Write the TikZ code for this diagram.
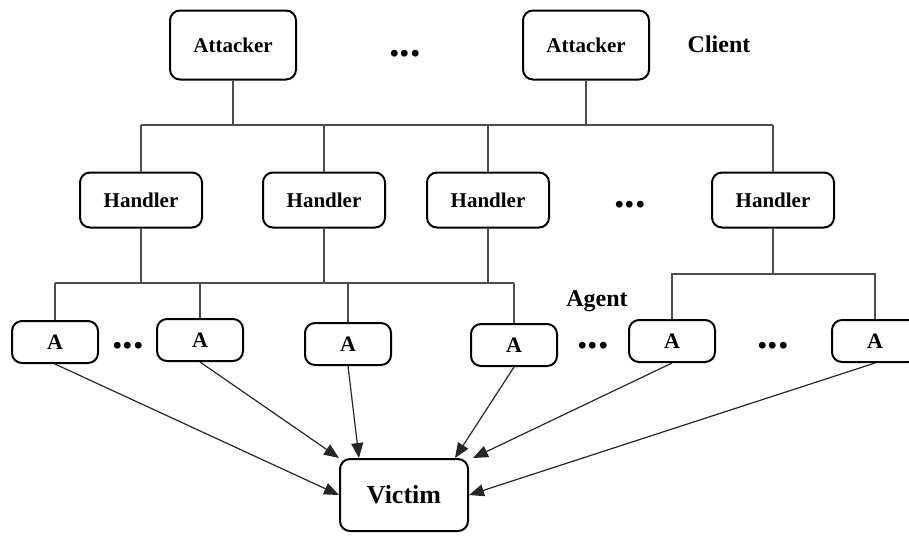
\documentclass[tikz,border=0pt]{standalone}
\usepackage{fontspec}
\setmainfont{Liberation Serif}
\usetikzlibrary{arrows.meta}

\begin{document}
\begin{tikzpicture}[x=0.5pt,y=-0.5pt,
        box/.style={draw, line width=1pt, rounded corners=5pt, font=\bfseries\fontsize{10.5}{12}\selectfont},
        tbox/.style={box, minimum width=63pt, minimum height=34.5pt},
        hbox/.style={box, minimum width=61pt, minimum height=27.5pt},
        abox/.style={box, minimum width=43pt, minimum height=21pt, font=\bfseries\fontsize{11}{13}\selectfont},
        vbox/.style={box, minimum width=64pt, minimum height=36pt, font=\bfseries\fontsize{13}{15}\selectfont},
        wire/.style={draw=black!70, line width=0.6pt},
        hit/.style={draw=black!85, line width=0.6pt, -{Triangle[length=7.5pt,width=6pt]}},
        more/.style={anchor=base, font=\bfseries\fontsize{21}{21}\selectfont},
        lbl/.style={font=\bfseries\fontsize{12}{14}\selectfont}]
        \useasboundingbox (0,0) rectangle (909,538);

        \node[tbox] (T1) at (233,45) {Attacker};
        \node[tbox] (T2) at (586,45) {Attacker};
        \node[more] (D0) at (405,56) {...};
        \node[lbl] (client) at (719,44) {Client};

        \node[hbox] (H1) at (141,200) {Handler};
        \node[hbox] (H2) at (324,200) {Handler};
        \node[hbox] (H3) at (488,200) {Handler};
        \node[hbox] (H4) at (773,200) {Handler};
        \node[more] (D1) at (630,207) {...};

        \node[abox] (A1) at (55,342) {A};
        \node[abox] (A2) at (200,340) {A};
        \node[abox] (A3) at (348,344) {A};
        \node[abox] (A4) at (514,345) {A};
        \node[abox] (A5) at (672,341) {A};
        \node[abox] (A6) at (875,341) {A};
        \node[more] (D2) at (128,348) {...};
        \node[more] (D3) at (593,348) {...};
        \node[more] (D4) at (773,348) {...};
        \node[lbl] (agent) at (597,301) {Agent};

        \node[vbox] (V) at (404,495) {Victim};

        \coordinate (bus1) at (0,125);
        \coordinate (bus2) at (0,283);
        \coordinate (bus3) at (0,274);

        \draw[wire] (T1.south) -- (T1.south |- bus1) (T2.south) -- (T2.south |- bus1);
        \draw[wire] (H1.north |- bus1) -- (H4.north |- bus1);
        \draw[wire] (H1.north) -- (H1.north |- bus1) (H2.north) -- (H2.north |- bus1);
        \draw[wire] (H3.north) -- (H3.north |- bus1) (H4.north) -- (H4.north |- bus1);

        \draw[wire] (H1.south) -- (H1.south |- bus2) (H2.south) -- (H2.south |- bus2);
        \draw[wire] (H3.south) -- (H3.south |- bus2);
        \draw[wire] (A1.north |- bus2) -- (A4.north |- bus2);
        \draw[wire] (A1.north) -- (A1.north |- bus2) (A2.north) -- (A2.north |- bus2);
        \draw[wire] (A3.north) -- (A3.north |- bus2) (A4.north) -- (A4.north |- bus2);

        \draw[wire] (H4.south) -- (H4.south |- bus3);
        \draw[wire] (A5.north) |- (H4.south |- bus3) -| (A6.north);

        \draw[hit] (A1.south) -- (V.west);
        \draw[hit] (A2.south) -- (V.north west);
        \draw[hit] (A3.south) -- ([xshift=10pt]V.north west);
        \draw[hit] (A4.south) -- ([xshift=-7pt]V.north east);
        \draw[hit] (A5.south) -- ([xshift=2pt]V.north east);
        \draw[hit] (A6.south) -- (V.east);
    \end{tikzpicture}
\end{document}
